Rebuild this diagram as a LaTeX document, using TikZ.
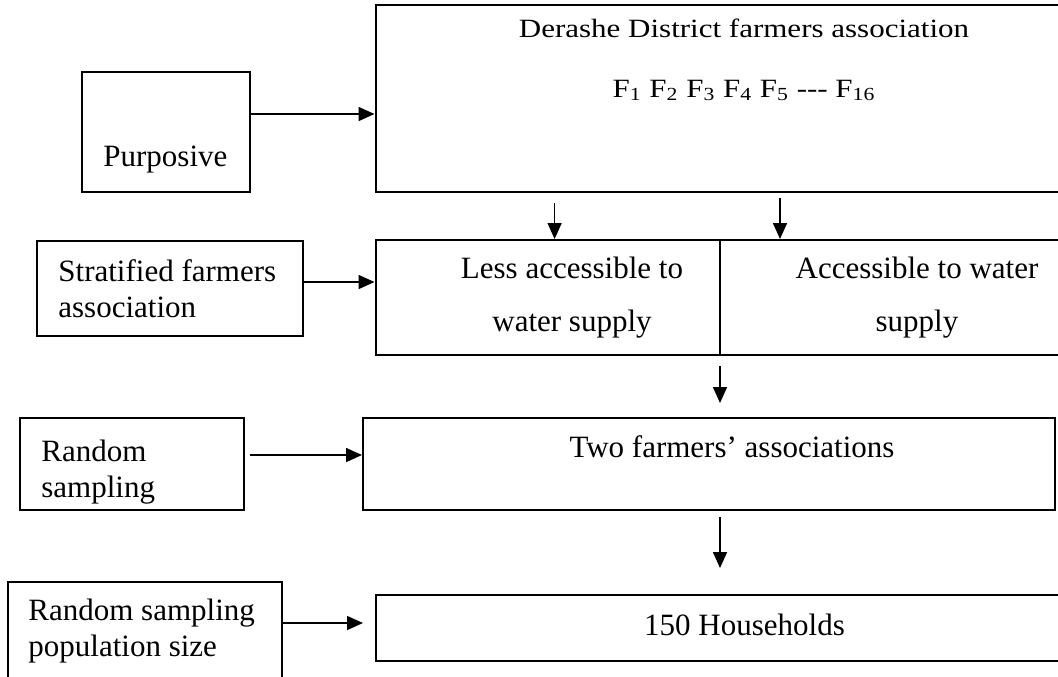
\documentclass[tikz,border=0pt]{standalone}
\usepackage{fontspec}
\setmainfont{Liberation Serif}
\usetikzlibrary{fit,arrows.meta}
\begin{document}
\begin{tikzpicture}[x=0.5pt,y=-0.5pt,
  box/.style={draw, line width=1pt, inner sep=0pt},
  arr/.style={line width=0.8pt, -{Triangle[length=8pt,width=7pt]}},
  lbl/.style={inner sep=0pt, font=\fontsize{15.5}{18}\selectfont, align=left},
  lblc/.style={inner sep=0pt, font=\fontsize{15.5}{26.5}\selectfont, align=center},
  ]
\clip (0,0) rectangle (1058,676);
\fill[white] (0,0) rectangle (1058,676);

% boxes
\node[box, fit={(82,72) (250,192)}] (purp) {};
\node[box, fit={(375.5,5) (1068,192)}] (top) {};
\node[box, fit={(37,240.5) (303,336)}] (strat) {};
\node[box, fit={(375.5,240) (719.7,355)}] (less) {};
\node[box, fit={(719.7,240) (1068,355)}] (acc) {};
\node[box, fit={(20,418) (244,510)}] (rand) {};
\node[box, fit={(363,418) (1054.5,510)}] (two) {};
\node[box, fit={(8,582) (282,700)}] (pop) {};
\node[box, fit={(375.5,595) (1068,661)}] (house) {};

% texts
\node[lbl, anchor=base west] (tpurp) at (103,166) {Purposive};
\node[lbl, anchor=base] (tder) at (744,37) {\scalebox{1}[0.85]{Derashe District farmers association}};
\node[lbl, anchor=base] (tf) at (744,97) {\scalebox{1}[0.85]{F\textsubscript{1} F\textsubscript{2} F\textsubscript{3} F\textsubscript{4} F\textsubscript{5} -{}-{}- F\textsubscript{16}}};
\node[lbl, anchor=base west] (tstrat) at (58,317) {Stratified farmers\\association};
\node[lblc, anchor=base] (tless) at (572,331) {Less accessible to\\water supply};
\node[lblc, anchor=base] (tacc) at (917,331) {Accessible to water\\supply};
\node[lbl, anchor=base west] (trand) at (41,497) {Random\\sampling};
\node[lbl, anchor=base] (ttwo) at (732,457) {Two farmers’ associations};
\node[lbl, anchor=base west] (tpop) at (28,656) {Random sampling\\population size};
\node[lbl, anchor=base] (thouse) at (744.5,635) {150 Households};

% connectors
\coordinate (y1) at (0,114);
\coordinate (y2) at (0,282);
\coordinate (y3) at (0,455);
\coordinate (y4) at (0,623);
\coordinate (s3) at (250,455);
\coordinate (e4) at (363,623);
\draw[arr] (purp.east |- y1) -- (top.west |- y1);
\draw[arr] (strat.east |- y2) -- (less.west |- y2);
\draw[arr] (s3) -- (two.west |- y3);
\draw[arr] (pop.east |- y4) -- (e4);

\coordinate (d1) at (554.6,203);
\coordinate (d2) at (780,198);
\coordinate (d3) at (720,366);
\coordinate (d3e) at (720,403);
\coordinate (d4) at (720,517);
\coordinate (d4e) at (720,568);
\draw[arr] (d1) -- (less.north -| d1);
\draw[arr] (d2) -- (acc.north -| d2);
\draw[arr] (d3) -- (d3e);
\draw[arr] (d4) -- (d4e);
\end{tikzpicture}
\end{document}
